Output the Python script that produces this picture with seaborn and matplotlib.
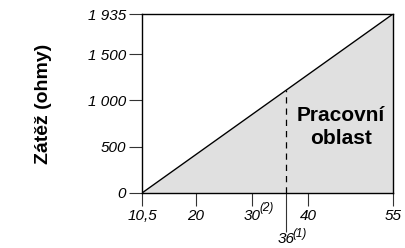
import matplotlib
matplotlib.use("Agg")
import matplotlib.pyplot as plt
import seaborn as sns
import pandas as pd

# data
napeti = [10.5, 55]          # x osa
zatez = [0, 1935]            # y osa (ohmy)
hranice = 36                 # svisla carkovana cara
x_ticks = [10.5, 20, 30, 40, 55]
x_labels = ["10,5", "20", "30", "40", "55"]
y_ticks = [0, 500, 1000, 1500, 1935]
y_labels = ["0", "500", "1 000", "1 500", "1 935"]
poznamky = [(30, "(2)"), (36, "(1)")]

df = pd.DataFrame({"napeti": napeti, "zatez": zatez})

sns.set_theme(style="ticks")
plt.rcParams["font.family"] = ["Liberation Sans", "DejaVu Sans"]
plt.rcParams["text.color"] = "black"
plt.rcParams["xtick.color"] = "black"
plt.rcParams["ytick.color"] = "black"
plt.rcParams["axes.labelcolor"] = "black"

fig = plt.figure(figsize=(4.05, 2.48), dpi=100)
ax = fig.add_axes([142 / 405, 1 - 193 / 248, 251 / 405, 179 / 248])

ax.fill_between(df["napeti"], 0, df["zatez"], color="#e0e0e0", lw=0)
sns.lineplot(data=df, x="napeti", y="zatez", ax=ax, color="black", lw=1)

# carkovana cara do 36
y36 = zatez[0] + (zatez[1] - zatez[0]) * (hranice - napeti[0]) / (napeti[1] - napeti[0])
ax.plot([hranice, hranice], [0, y36], color="black", lw=0.9, ls=(0, (5, 4)))

ax.set_xlim(napeti[0], napeti[1])
ax.set_ylim(zatez[0], zatez[1])

for s in ax.spines.values():
    s.set_color("black")
    s.set_linewidth(1)

ax.set_xticks(x_ticks)
ax.set_xticklabels(x_labels, fontstyle="italic", fontsize=11)
ax.set_yticks(y_ticks)
ax.set_yticklabels(y_labels, fontstyle="italic", fontsize=11)
ax.tick_params(axis="both", which="major", length=9.5, width=0.8, color="#333333", pad=2)

ax.set_xticks([hranice], minor=True)
ax.set_xticklabels([str(hranice)], minor=True, fontstyle="italic", fontsize=11)
ax.tick_params(axis="x", which="minor", length=28, width=0.8, color="#333333", pad=0)

# horni indexy u popisku
for xv, txt in poznamky:
    dy = -9 if xv != hranice else -35
    ax.annotate(txt, xy=(xv, 0), xycoords=("data", "axes fraction"),
                xytext=(7, dy), textcoords="offset pixels",
                ha="left", va="top", fontsize=8.5, fontstyle="italic",
                annotation_clip=False)

ax.set_xlabel("")
ax.set_ylabel("Zátěž (ohmy)", fontsize=14, fontweight="bold", labelpad=26)

ax.text(45.8, 713, "Pracovní\noblast", ha="center", va="center",
        fontsize=15, fontweight="bold", linespacing=1.25)

fig.savefig("out.png", dpi=100)
